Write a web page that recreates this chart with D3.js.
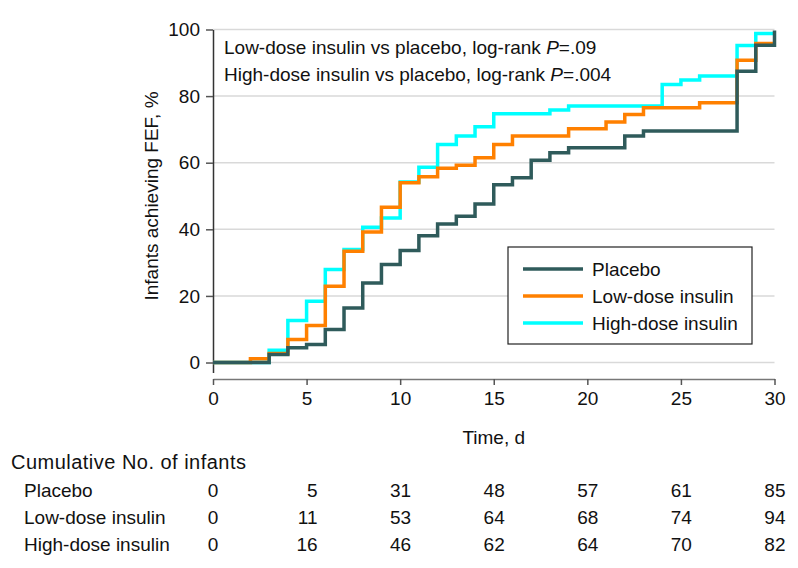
<!DOCTYPE html>
<html><head><meta charset="utf-8">
<script src="https://cdn.jsdelivr.net/npm/d3@7/dist/d3.min.js"></script>
<style>
html,body{margin:0;padding:0;background:#fff;}
svg{display:block;font-family:"Liberation Sans",Arial,sans-serif;}
</style></head>
<body>
<svg id="chart" width="798" height="568"></svg>
<script>
// ---- data ----
const seriesNames = ["Placebo", "Low-dose insulin", "High-dose insulin"];
const seriesColors = ["#2f5b5b", "#ff8000", "#00ffff"];

const placeboTimes  = [0, 3, 4, 5, 6, 7, 8, 9, 10, 11, 12, 13, 14, 15, 16, 17, 18, 19, 22, 23, 28, 29, 30];
const placeboValues = [0, 2.4, 4.4, 5.4, 9.9, 16.4, 23.9, 29.4, 33.6, 38.1, 41.6, 43.9, 47.6, 53.4, 55.5, 60.7, 63, 64.5, 68, 69.5, 87.5, 95.3, 99.7];

const lowTimes  = [0, 2, 3, 4, 5, 6, 7, 8, 9, 10, 11, 12, 13, 14, 15, 16, 19, 21, 22, 23, 26, 28, 29, 30];
const lowValues = [0, 1.1, 2.7, 6.9, 11.1, 22.9, 33.4, 39.2, 46.6, 54, 55.8, 58.3, 59.2, 61.5, 65.5, 68, 70.2, 72.2, 74.5, 76.5, 78, 90.8, 95.8, 95.8];

const highTimes  = [0, 3, 4, 5, 6, 7, 8, 9, 10, 11, 12, 13, 14, 15, 18, 19, 24, 25, 26, 28, 29, 30];
const highValues = [0, 3.7, 12.6, 18.4, 27.9, 33.9, 40.6, 43.4, 54.2, 58.6, 65.5, 68, 70.8, 74.7, 75.8, 77, 83.5, 84.8, 86, 95.2, 98.8, 98.8];

const xTicks = [0, 5, 10, 15, 20, 25, 30];
const yTicks = [0, 20, 40, 60, 80, 100];

const riskTitle = "Cumulative No. of infants";
const riskPlacebo = [0, 5, 31, 48, 57, 61, 85];
const riskLow     = [0, 11, 53, 64, 68, 74, 94];
const riskHigh    = [0, 16, 46, 62, 64, 70, 82];

const annotations = [
  ["Low-dose insulin vs placebo, log-rank ", "P", "=.09"],
  ["High-dose insulin vs placebo, log-rank ", "P", "=.004"]
];

// ---- layout ----
const FS = 19;
const svg = d3.select("#chart");
const x = d3.scaleLinear().domain([0, 30]).range([213, 774.5]);
const y = d3.scaleLinear().domain([-3, 100]).range([372.5, 29.5]);

// gridlines
svg.append("g").selectAll("line").data(yTicks).join("line")
  .attr("x1", x(0)).attr("x2", x(30))
  .attr("y1", d => y(d)).attr("y2", d => y(d))
  .attr("stroke", "#d9d9d9").attr("stroke-width", 1.5);

// y axis
const yAxis = svg.append("g").attr("transform", `translate(${x(0)},0)`)
  .call(d3.axisLeft(y).tickValues(yTicks).tickSize(7).tickPadding(6).tickSizeOuter(0));
yAxis.select(".domain").attr("stroke", "#333").attr("stroke-width", 1.5);
yAxis.selectAll(".tick line").attr("stroke", "#555").attr("stroke-width", 1.5);
yAxis.selectAll(".tick text").attr("font-size", FS).attr("fill", "#111")
  .attr("font-family", "Liberation Sans, Arial, sans-serif");

// x axis
const xAxis = svg.append("g").attr("transform", "translate(0,379)")
  .call(d3.axisBottom(x).tickValues(xTicks).tickSize(6).tickPadding(7).tickSizeOuter(0));
xAxis.select(".domain").attr("stroke", "#777").attr("stroke-width", 1.5);
xAxis.selectAll(".tick line").attr("stroke", "#555").attr("stroke-width", 1.5);
xAxis.selectAll(".tick text").attr("font-size", FS).attr("fill", "#111")
  .attr("font-family", "Liberation Sans, Arial, sans-serif");

// axis titles
svg.append("text").attr("x", (x(0) + x(30)) / 2).attr("y", 444)
  .attr("text-anchor", "middle").attr("font-size", FS).attr("fill", "#111").text("Time, d");
svg.append("text").attr("transform", `translate(158,${(y(0)+y(100))/2}) rotate(-90)`)
  .attr("text-anchor", "middle").attr("font-size", FS).attr("fill", "#111")
  .text("Infants achieving FEF, %");

// step curves
const line = d3.line().x(d => x(d[0])).y(d => y(d[1])).curve(d3.curveStepAfter);
const series = [
  {name: seriesNames[2], color: seriesColors[2], pts: d3.zip(highTimes, highValues)},
  {name: seriesNames[1], color: seriesColors[1], pts: d3.zip(lowTimes, lowValues)},
  {name: seriesNames[0], color: seriesColors[0], pts: d3.zip(placeboTimes, placeboValues)}
];
svg.append("g").selectAll("path").data(series).join("path")
  .attr("d", d => line(d.pts)).attr("fill", "none")
  .attr("stroke", d => d.color).attr("stroke-width", 3.5);

// annotation
annotations.forEach((a, i) => {
  const t = svg.append("text").attr("x", 224).attr("y", 54 + i * 27)
    .attr("font-size", FS).attr("fill", "#111");
  t.append("tspan").text(a[0]);
  t.append("tspan").attr("font-style", "italic").text(a[1]);
  t.append("tspan").text(a[2]);
});

// legend
const lg = svg.append("g");
lg.append("rect").attr("x", 508).attr("y", 247).attr("width", 244).attr("height", 97)
  .attr("fill", "#fff").attr("stroke", "#222").attr("stroke-width", 1.2);
seriesNames.forEach((n, i) => {
  const yy = 269 + i * 27;
  lg.append("line").attr("x1", 523).attr("x2", 583).attr("y1", yy).attr("y2", yy)
    .attr("stroke", seriesColors[i]).attr("stroke-width", 3.5);
  lg.append("text").attr("x", 592).attr("y", yy + 7).attr("font-size", FS)
    .attr("fill", "#111").text(n);
});

// risk table
svg.append("text").attr("x", 11).attr("y", 469).attr("font-size", 20)
  .attr("textLength", 235).attr("lengthAdjust", "spacing")
  .attr("fill", "#111").text(riskTitle);
const riskRows = [riskPlacebo, riskLow, riskHigh];
riskRows.forEach((row, i) => {
  const yy = 497 + i * 27;
  svg.append("text").attr("x", 24).attr("y", yy).attr("font-size", FS).attr("fill", "#111").text(seriesNames[i]);
  svg.append("g").selectAll("text").data(row).join("text")
    .attr("x", (d, j) => j === 0 ? x(xTicks[j]) : x(xTicks[j]) + 11)
    .attr("y", yy)
    .attr("text-anchor", (d, j) => j === 0 ? "middle" : "end")
    .attr("font-size", FS).attr("fill", "#111").text(d => d);
});
</script>
</body></html>
